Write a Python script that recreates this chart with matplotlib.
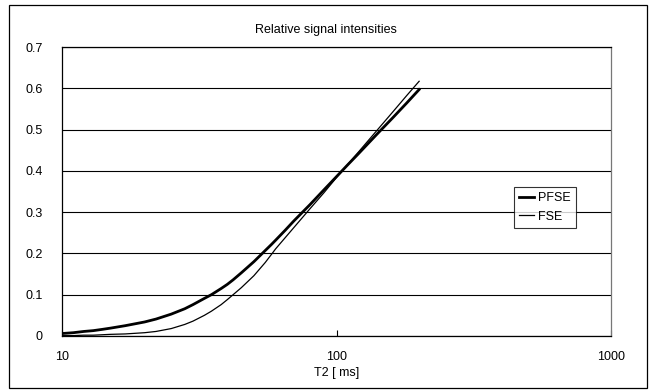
import matplotlib
matplotlib.use("Agg")
import matplotlib.pyplot as plt
from matplotlib.patches import Rectangle

plt.rcParams['font.family'] = ['Liberation Sans', 'DejaVu Sans']
plt.rcParams['font.size'] = 9

# values
t2 = [10, 11, 12, 13, 14, 15, 17, 20, 22, 25, 28, 30, 33, 35, 38, 40, 42, 45,
      50, 55, 58, 60, 65, 70, 80, 90, 100, 110, 120, 140, 160, 180, 200]
pfse = [0.006, 0.008, 0.011, 0.013, 0.016, 0.019, 0.025, 0.034, 0.041, 0.053,
        0.066, 0.076, 0.091, 0.100, 0.115, 0.125, 0.136, 0.153,
        0.180, 0.207, 0.222, 0.232, 0.256, 0.279, 0.318, 0.354, 0.386, 0.415,
        0.441, 0.488, 0.528, 0.564, 0.597]
fse = [0.001, 0.001, 0.002, 0.002, 0.003, 0.004, 0.005, 0.008, 0.011, 0.018,
       0.028, 0.036, 0.050, 0.060, 0.076, 0.088, 0.100, 0.117,
       0.146, 0.178, 0.198, 0.211, 0.238, 0.263, 0.308, 0.347, 0.384, 0.416,
       0.445, 0.497, 0.542, 0.582, 0.617]
yticks = [0, 0.1, 0.2, 0.3, 0.4, 0.5, 0.6, 0.7]
xticks = [10, 100, 1000]

fig = plt.figure(figsize=(6.51, 3.92), dpi=100)
ax = fig.add_axes([62/651, 1 - 336/392, 549/651, 289/392])

ax.plot(t2, pfse, color='black', lw=2.0, label='PFSE')
ax.plot(t2, fse, color='black', lw=0.9, label='FSE')

ax.set_xscale('log')
ax.set_xlim(10, 1000)
ax.set_ylim(0, 0.7)
ax.set_xticks(xticks)
ax.set_xticklabels([str(v) for v in xticks])
ax.xaxis.set_minor_locator(matplotlib.ticker.NullLocator())
ax.set_yticks(yticks)
ax.set_yticklabels(['0'] + ['%.1f' % v for v in yticks[1:]])
ax.tick_params(axis='x', direction='in', length=4, width=0.8, pad=11)
ax.tick_params(axis='y', length=0, pad=14)
ax.yaxis.grid(True, color='black', lw=0.8)
ax.set_axisbelow(True)
for s in ax.spines.values():
    s.set_color('black')
    s.set_linewidth(0.9)
ax.spines['right'].set_color('#777777')

ax.set_xlabel('T2 [ ms]', labelpad=3)
fig.text(0.5, 1 - 30/392, 'Relative signal intensities', ha='center', va='center')

leg = ax.legend(loc='center left', bbox_to_anchor=(446/549, 0.445), frameon=True,
                fancybox=False, edgecolor='black', handlelength=1.2,
                handletextpad=0.3, borderpad=0.4, labelspacing=0.5)
leg.get_frame().set_linewidth(0.8)

# chart-area border
fig.patches.append(Rectangle((9/651, 4/392), 638/651, 383/392, transform=fig.transFigure,
                             fill=False, edgecolor='black', lw=0.9))

fig.savefig('out.png', dpi=100)
